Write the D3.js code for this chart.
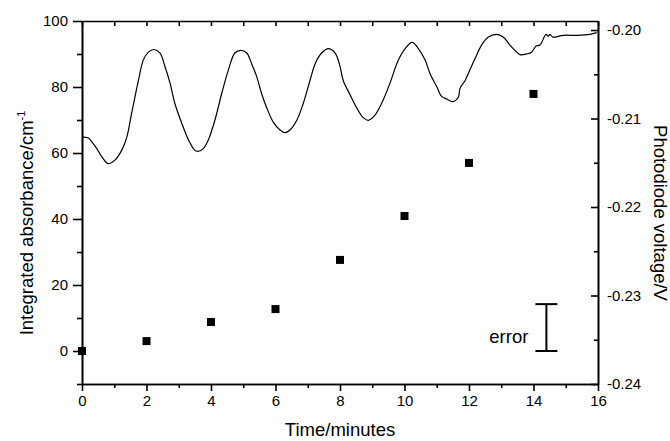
<!DOCTYPE html>
<html>
<head>
<meta charset="utf-8">
<script src="https://cdn.jsdelivr.net/npm/d3@7"></script>
<style>
  body { margin: 0; background: #fff; }
  svg { display: block; font-family: Arial, "Liberation Sans", sans-serif; }
  .axis path, .axis line { stroke: #000; stroke-width: 1.6; }
  .axis text { font-size: 15px; fill: #000; }
</style>
</head>
<body>
<script>
// absorbance points (left axis)
var absTime = [0, 2, 4, 6, 8, 10, 12, 14];
var absValue = [0, 3.0, 8.8, 12.7, 27.6, 40.9, 57.0, 77.9];

// photodiode trace (right axis)
var voltTime = [0, 0.2, 0.3, 0.46, 0.61, 0.81, 1.02, 1.23, 1.39, 1.54, 1.75, 1.9, 2.06, 2.23, 2.42, 2.57,
  2.73, 2.88, 3.09, 3.3, 3.5, 3.61, 3.76, 3.92, 4.12, 4.33, 4.54, 4.74, 4.92, 5.11, 5.26, 5.42, 5.57,
  5.73, 5.93, 6.14, 6.3, 6.45, 6.66, 6.86, 7.07, 7.23, 7.43, 7.64, 7.85, 8.0, 8.1, 8.31, 8.52, 8.72,
  8.88, 9.09, 9.34, 9.55, 9.81, 10.02, 10.24, 10.43, 10.64, 10.79, 11.0, 11.15, 11.31, 11.49, 11.67,
  11.72, 11.88, 12.03, 12.19, 12.39, 12.6, 12.86, 13.06, 13.27, 13.48, 13.6, 13.79, 13.94, 14.08,
  14.2, 14.39, 14.46, 14.51, 14.6, 14.92, 15.34, 15.75, 15.96];
var voltValue = [-0.2121, -0.2122, -0.2126, -0.2134, -0.2143, -0.2151, -0.2147, -0.2136, -0.2121, -0.2094,
  -0.2057, -0.2034, -0.2025, -0.2022, -0.2026, -0.2041, -0.2060, -0.2083, -0.2105, -0.2124, -0.2136,
  -0.2137, -0.2134, -0.2124, -0.2102, -0.2072, -0.2045, -0.2026, -0.2023, -0.2026, -0.2038, -0.2053,
  -0.2072, -0.2088, -0.2104, -0.2113, -0.2116, -0.2113, -0.2102, -0.2083, -0.2057, -0.2038, -0.2026,
  -0.2021, -0.2026, -0.2041, -0.2057, -0.2073, -0.2088, -0.2099, -0.2102, -0.2096, -0.2079, -0.2060,
  -0.2034, -0.2021, -0.2014, -0.2021, -0.2034, -0.2049, -0.2064, -0.2075, -0.2078, -0.2081, -0.2076,
  -0.2066, -0.2057, -0.2045, -0.2032, -0.2017, -0.2008, -0.2005, -0.2008, -0.2017, -0.2025, -0.2028,
  -0.2027, -0.2025, -0.2018, -0.2017, -0.2005, -0.2007, -0.2005, -0.2008, -0.2006, -0.2006, -0.2005,
  -0.2003];

// error bar annotation
var errTime = 14.4, errLow = 0, errHigh = 14.2, errLabel = "error";

var xMajor = [0, 2, 4, 6, 8, 10, 12, 14, 16];
var xMinor = [1, 3, 5, 7, 9, 11, 13, 15];
var yLeftMajor = [0, 20, 40, 60, 80, 100];
var yLeftMinor = [-10, 10, 30, 50, 70, 90];
var yRightMajor = [-0.24, -0.23, -0.22, -0.21, -0.20];
var yRightMinor = [-0.235, -0.225, -0.215, -0.205];

var W = 670, H = 441;
var m = {left: 82, right: 72, top: 21, bottom: 57};

var svg = d3.select("body").append("svg").attr("width", W).attr("height", H);

var x = d3.scaleLinear().domain([0, 16]).range([m.left, W - m.right]);
var yL = d3.scaleLinear().domain([-10, 100]).range([H - m.bottom, m.top]);
var yR = d3.scaleLinear().domain([-0.24, -0.19898]).range([H - m.bottom, m.top]);

var bottom = H - m.bottom, right = W - m.right;

// bottom axis
svg.append("g").attr("class", "axis").attr("transform", "translate(0," + bottom + ")")
  .call(d3.axisBottom(x).tickValues(xMajor).tickSize(7).tickSizeOuter(0).tickPadding(4).tickFormat(d3.format("d")));
svg.append("g").attr("class", "axis").attr("transform", "translate(0," + bottom + ")")
  .call(d3.axisBottom(x).tickValues(xMinor).tickSize(4).tickSizeOuter(0).tickFormat(""));
// top axis, ticks inside
svg.append("g").attr("class", "axis").attr("transform", "translate(0," + m.top + ")")
  .call(d3.axisTop(x).tickValues(xMajor.concat(xMinor)).tickSize(-5).tickSizeOuter(0).tickFormat(""));
// left axis
svg.append("g").attr("class", "axis").attr("transform", "translate(" + m.left + ",0)")
  .call(d3.axisLeft(yL).tickValues(yLeftMajor).tickSize(9).tickSizeOuter(0).tickPadding(5).tickFormat(d3.format("d")));
svg.append("g").attr("class", "axis").attr("transform", "translate(" + m.left + ",0)")
  .call(d3.axisLeft(yL).tickValues(yLeftMinor).tickSize(5).tickSizeOuter(0).tickFormat(""));
// right axis, ticks inside
svg.append("g").attr("class", "axis").attr("transform", "translate(" + right + ",0)")
  .call(d3.axisRight(yR).tickValues(yRightMajor).tickSize(-7).tickSizeOuter(0).tickPadding(9).tickFormat(d3.format(".2f")));
svg.append("g").attr("class", "axis").attr("transform", "translate(" + right + ",0)")
  .call(d3.axisRight(yR).tickValues(yRightMinor).tickSize(-4).tickSizeOuter(0).tickFormat(""));

svg.selectAll(".axis text").text(function() { return this.textContent.replace("\u2212", "-"); });

// photodiode trace
var line = d3.line()
  .x(function(d) { return x(d[0]); })
  .y(function(d) { return yR(d[1]); })
  .curve(d3.curveCatmullRom);
svg.append("path")
  .datum(d3.zip(voltTime, voltValue))
  .attr("d", line)
  .attr("fill", "none")
  .attr("stroke", "#000")
  .attr("stroke-width", 1.2);

// absorbance squares
svg.selectAll("rect.pt")
  .data(d3.zip(absTime, absValue))
  .enter().append("rect")
  .attr("class", "pt")
  .attr("x", function(d) { return x(d[0]) - 4; })
  .attr("y", function(d) { return yL(d[1]) - 4; })
  .attr("width", 8).attr("height", 8)
  .attr("fill", "#000");

// error bar
var eg = svg.append("g").attr("stroke", "#000").attr("stroke-width", 2);
eg.append("line").attr("x1", x(errTime)).attr("x2", x(errTime)).attr("y1", yL(errLow)).attr("y2", yL(errHigh));
eg.append("line").attr("x1", x(errTime) - 11).attr("x2", x(errTime) + 11).attr("y1", yL(errLow)).attr("y2", yL(errLow));
eg.append("line").attr("x1", x(errTime) - 11).attr("x2", x(errTime) + 11).attr("y1", yL(errHigh)).attr("y2", yL(errHigh));
svg.append("text")
  .attr("x", x(errTime) - 18).attr("y", yL((errLow + errHigh) / 2) + 15)
  .attr("text-anchor", "end").attr("font-size", 18.5)
  .text(errLabel);

// axis titles
svg.append("text")
  .attr("x", (m.left + right) / 2).attr("y", 436)
  .attr("text-anchor", "middle").attr("font-size", 18.5)
  .text("Time/minutes");

var lt = svg.append("text")
  .attr("transform", "translate(33,223) rotate(-90)")
  .attr("text-anchor", "middle").attr("font-size", 18.5);
lt.append("tspan").text("Integrated absorbance/cm");
lt.append("tspan").attr("font-size", 11).attr("dy", -8).text("-1");

svg.append("text")
  .attr("transform", "translate(654,213) rotate(90)")
  .attr("text-anchor", "middle").attr("font-size", 18.5)
  .text("Photodiode voltage/V");
</script>
</body>
</html>
